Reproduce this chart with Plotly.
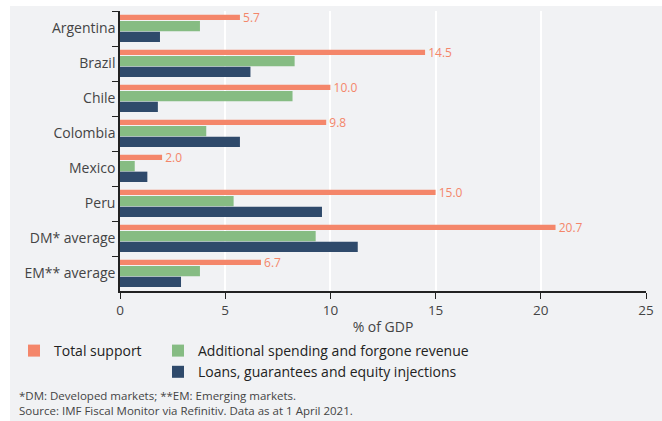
import plotly.graph_objects as go

countries = [
    "Argentina",
    "Brazil",
    "Chile",
    "Colombia",
    "Mexico",
    "Peru",
    "DM* average",
    "EM** average"
]

total_support = [5.7, 14.5, 10.0, 9.8, 2.0, 15.0, 20.7, 6.7]
additional_spending = [3.8, 8.3, 8.2, 4.1, 0.7, 5.4, 9.3, 3.8]
loans_guarantees = [1.9, 6.2, 1.8, 5.7, 1.3, 9.6, 11.3, 2.9]

x_ticks = [0, 5, 10, 15, 20, 25]

BG = "#f1f2f4"
ORANGE = "#f4866a"
GREEN = "#86bc83"
NAVY = "#2f4a6b"
TEXT = "#444444"
FONT = "Open Sans"

fig = go.Figure()

fig.add_trace(

    go.Bar(

        name="Total support",

        y=countries,

        x=total_support,

        orientation="h",

        offset=-0.39,

        width=0.145,

        marker=dict(color=ORANGE, line=dict(width=0)),

        texttemplate=" %{x:.1f}",

        textposition="outside",

        constraintext="none",

        cliponaxis=False,

        textfont=dict(color=ORANGE, size=12, family=FONT),

        showlegend=True,

        legend="legend"
    )

)

fig.add_trace(

    go.Bar(

        name="Additional spending and forgone revenue",

        y=countries,

        x=additional_spending,

        orientation="h",

        offset=-0.215,

        width=0.295,

        marker=dict(color=GREEN, line=dict(width=0)),

        showlegend=True,

        legend="legend2"
    )

)

fig.add_trace(

    go.Bar(

        name="Loans, guarantees and equity injections",

        y=countries,

        x=loans_guarantees,

        orientation="h",

        offset=0.09,

        width=0.295,

        marker=dict(color=NAVY, line=dict(width=0)),

        showlegend=True,

        legend="legend2"
    )

)

# grey card behind the whole chart, leaving a thin white strip top-left
fig.add_shape(

    type="rect",

    xref="paper",
    yref="paper",

    x0=(10 - 120) / 526,
    x1=1.2,
    y0=-0.6,
    y1=(291 - 6) / 280,

    fillcolor=BG,

    line=dict(width=0),

    layer="below"
)

fig.add_annotation(

    text="*DM: Developed markets; **EM: Emerging markets.<br>"
         "Source: IMF Fiscal Monitor via Refinitiv. Data as at 1 April 2021.",

    xref="paper",
    yref="paper",

    x=(17 - 120) / 526,
    y=(291 - 386) / 280,

    xanchor="left",
    yanchor="top",

    align="left",

    showarrow=False,

    font=dict(size=11.5, color=TEXT, family=FONT)
)

fig.update_layout(

    width=662,

    height=421,

    margin=dict(l=120, r=16, t=11, b=130, autoexpand=False),

    paper_bgcolor="white",

    plot_bgcolor=BG,

    font=dict(family=FONT, color=TEXT, size=14),

    barmode="overlay",

    showlegend=True,

    xaxis=dict(

        range=[0, 25],

        tickvals=x_ticks,

        automargin=False,

        showgrid=True,

        gridcolor="white",

        gridwidth=1.5,

        zeroline=False,

        showline=True,

        linecolor="#222222",

        linewidth=1.5,

        ticks="outside",

        ticklen=6,

        tickcolor="#222222",

        tickfont=dict(size=13.5, color=TEXT),

        title=dict(

            text="% of GDP",

            font=dict(size=14, color=TEXT),

            standoff=4
        )
    ),

    yaxis=dict(

        autorange="reversed",

        automargin=False,

        showgrid=False,

        showline=True,

        linecolor="#222222",

        linewidth=1.5,

        ticks="outside",

        tickson="boundaries",

        ticklen=6,

        tickcolor="#222222",

        tickfont=dict(size=14, color=TEXT)
    ),

    legend=dict(

        x=(14 - 120) / 526,
        y=(291 - 335) / 280,

        xanchor="left",
        yanchor="top",

        bgcolor="rgba(0,0,0,0)",

        font=dict(size=14, color="#222222")
    ),

    legend2=dict(

        x=(158 - 120) / 526,
        y=(291 - 335) / 280,

        xanchor="left",
        yanchor="top",

        orientation="v",

        tracegroupgap=0,

        bgcolor="rgba(0,0,0,0)",

        font=dict(size=14, color="#222222")
    )
)

# drop the default page margin so the figure sits at the window's corner
fig.write_html(
    "out.html",
    config={"displayModeBar": False},
    post_script="document.body.style.margin='0';"
)
